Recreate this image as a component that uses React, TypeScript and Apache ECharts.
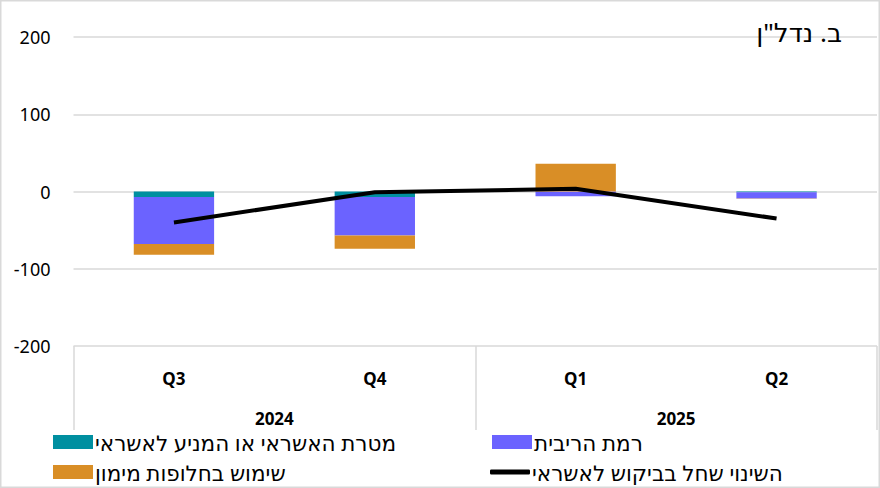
import React, { useEffect, useRef } from "react";
import * as echarts from "echarts";

const quarters = ["Q3", "Q4", "Q1", "Q2"];
const years = ["2024", "2025"];
const purposeValues = [-7, -7, 0, -1];
const rateValues = [-61, -50, -6, -8];
const alternativesValues = [-14, -17, 36, -0.5];
const demandChange = [-40, -1, 3.5, -35];

const nameP = "מטרת האשראי או המניע לאשראי";
const nameR = "רמת הריבית";
const nameA = "שימוש בחלופות מימון";
const nameD = "השינוי שחל בביקוש לאשראי";
const titleText = "ב. נדל\"ן";

const FONT = "'Noto Sans', 'DejaVu Sans', sans-serif";

export default function App() {
  const ref = useRef<HTMLDivElement>(null);
  useEffect(() => {
    document.body.style.margin = "0";
    const chart = echarts.init(ref.current!, null, { renderer: "svg" });
    const legendBase = {
      orient: "horizontal",
      itemWidth: 40,
      itemHeight: 14,
      itemGap: 4,
      padding: 0,
      textStyle: { fontSize: 21.5, lineHeight: 22, color: "#000", fontFamily: FONT, padding: [0, 0, 0, -3] },
      selectedMode: false,
    };
    chart.setOption({
      animation: false,
      textStyle: { fontFamily: FONT },
      title: {
        text: titleText,
        right: 33,
        top: 14,
        textStyle: { fontSize: 26, fontWeight: "normal", color: "#000", fontFamily: FONT },
      },
      grid: { left: 73.5, right: 3, top: 37, bottom: 142, containLabel: false },
      legend: [
        { ...legendBase, data: [{ name: nameP, icon: "rect" }], left: 53, top: 431 },
        { ...legendBase, data: [{ name: nameR, icon: "rect" }], left: 492, top: 431 },
        { ...legendBase, data: [{ name: nameA, icon: "rect" }], left: 53, top: 461 },
        { ...legendBase, itemHeight: 5, data: [{ name: nameD, icon: "roundRect" }], left: 490, top: 461 },
      ],
      xAxis: [
        {
          type: "category",
          data: quarters,
          position: "bottom",
          axisLine: { show: false },
          axisTick: { show: false },
          axisLabel: { fontSize: 17, fontWeight: "bold", color: "#000", margin: 24, fontFamily: FONT },
        },
        {
          type: "category",
          data: years,
          position: "bottom",
          axisLine: { show: false },
          axisTick: { show: true, length: 84, lineStyle: { color: "#d9d9d9", width: 1.5 } },
          axisLabel: { fontSize: 17, lineHeight: 18, fontWeight: "bold", color: "#000", margin: 63, fontFamily: FONT },
          splitLine: { show: false },
        },
      ],
      yAxis: {
        type: "value",
        min: -200,
        max: 200,
        interval: 100,
        axisLine: { show: false },
        axisTick: { show: false },
        axisLabel: { fontSize: 18, color: "#000", margin: 23, fontFamily: FONT },
        splitLine: { lineStyle: { color: "#d9d9d9", width: 1.5 } },
      },
      series: [
        {
          name: nameP,
          type: "bar",
          stack: "s",
          data: purposeValues,
          barWidth: "40%",
          itemStyle: { color: "#008fa0" },
        },
        {
          name: nameR,
          type: "bar",
          stack: "s",
          data: rateValues,
          itemStyle: { color: "#6b63ff" },
        },
        {
          name: nameA,
          type: "bar",
          stack: "s",
          data: alternativesValues,
          itemStyle: { color: "#d98e26" },
        },
        {
          name: nameD,
          type: "line",
          data: demandChange,
          symbol: "none",
          lineStyle: { color: "#000", width: 4 },
          itemStyle: { color: "#000" },
          z: 5,
        },
      ],
      graphic: [
        {
          type: "rect",
          shape: { x: 0.75, y: 0.75, width: 878.5, height: 486.5 },
          style: { fill: "none", stroke: "#d9d9d9", lineWidth: 1.5 },
          silent: true,
        },
      ],
    });
    return () => chart.dispose();
  }, []);
  return <div ref={ref} style={{ width: 880, height: 488 }} />;
}
